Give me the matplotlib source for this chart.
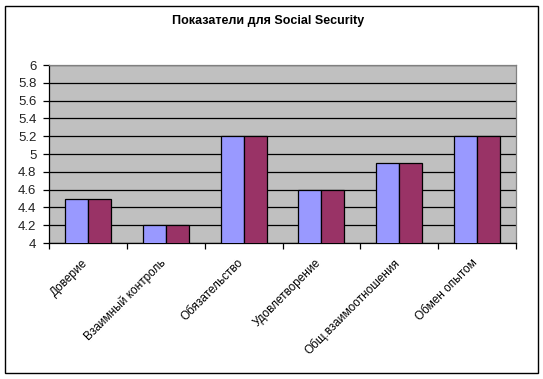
import matplotlib.pyplot as plt
import matplotlib.transforms as mtransforms
import numpy as np
from matplotlib.patches import Rectangle

# Данные
categories = ["Доверие", "Взаимный контроль", "Обязательство",
              "Удовлетворение", "Общ.взаимоотношения", "Обмен опытом"]
series_1 = [4.5, 4.2, 5.2, 4.6, 4.9, 5.2]
series_2 = [4.5, 4.2, 5.2, 4.6, 4.9, 5.2]
y_ticks = [4, 4.2, 4.4, 4.6, 4.8, 5, 5.2, 5.4, 5.6, 5.8, 6]
y_tick_labels = ["4", "4.2", "4.4", "4.6", "4.8", "5", "5.2", "5.4", "5.6", "5.8", "6"]
title = "Показатели для Social Security"

plt.rcParams['font.family'] = ['Liberation Sans', 'DejaVu Sans']

fig = plt.figure(figsize=(5.43, 3.79), dpi=100)
fig.patch.set_facecolor('white')

# Рамка вокруг всей диаграммы
fig.patches.append(Rectangle((5 / 543, 6 / 379), 533 / 543, 367 / 379,
                             transform=fig.transFigure, fill=False,
                             edgecolor='black', linewidth=1.0))

ax = fig.add_axes([49 / 543, 1 - 243 / 379, 467 / 543, 178 / 379])
ax.set_facecolor('#C0C0C0')

x = np.arange(len(categories))
w = 0.295
ax.bar(x - w / 2, series_1, width=w, color='#9999FF', edgecolor='black',
       linewidth=0.9, zorder=3)
ax.bar(x + w / 2, series_2, width=w, color='#993366', edgecolor='black',
       linewidth=0.9, zorder=3)

ax.set_ylim(4, 6)
ax.set_xlim(-0.5, len(categories) - 0.5)
ax.set_yticks(y_ticks)
ax.set_yticklabels(y_tick_labels, fontsize=9.5, color='#222222')
ax.yaxis.grid(True, color='black', linewidth=0.9, zorder=1)
ax.set_axisbelow(True)

# Деления оси X между группами
ax.set_xticks(np.arange(len(categories) + 1) - 0.5)
ax.set_xticklabels([])
ax.set_xticks(x, minor=True)
ax.set_xticklabels(categories, minor=True, rotation=45, ha='right',
                   va='top', rotation_mode='anchor', fontsize=8.5)
ax.tick_params(axis='x', which='minor', length=0, pad=10)
ax.tick_params(axis='x', which='major', length=4, width=0.9, direction='out')
ax.tick_params(axis='y', length=4, width=0.9, direction='out', pad=5)

# Сдвигаем подписи категорий немного влево
shift = mtransforms.ScaledTranslation(-6 / 100, 0, fig.dpi_scale_trans)
for lbl in ax.get_xticklabels(minor=True):
    lbl.set_transform(lbl.get_transform() + shift)

for side in ['left', 'bottom']:
    ax.spines[side].set_color('black')
    ax.spines[side].set_linewidth(0.9)
for side in ['top', 'right']:
    ax.spines[side].set_color('#808080')
    ax.spines[side].set_linewidth(0.9)

fig.text(268 / 543, 1 - 21 / 379, title, ha='center', va='center',
         fontsize=9, fontweight='bold')

fig.savefig("out.png", dpi=100)
